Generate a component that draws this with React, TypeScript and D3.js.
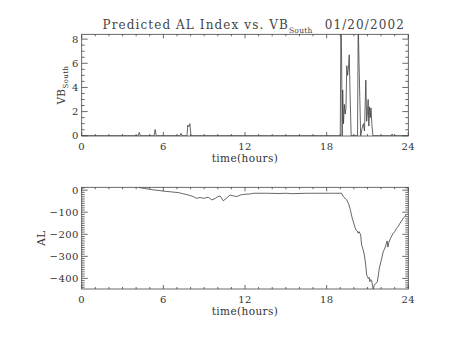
import React from "react";
import * as d3 from "d3";

const vbTimes = [0, 4.15, 4.23, 4.31, 5.32, 5.4, 5.48, 7.22, 7.3, 7.38, 7.74, 7.79, 7.87, 7.95, 8.03, 19.0, 19.05, 19.1, 19.14, 19.18, 19.24, 19.3, 19.36, 19.42, 19.48, 19.54, 19.6, 19.66, 19.72, 19.8, 20.27, 20.32, 20.38, 20.44, 20.5, 20.6, 20.7, 20.78, 20.88, 20.94, 21.0, 21.05, 21.1, 21.15, 21.2, 21.26, 21.32, 21.4, 22.76, 22.81, 22.86, 24];
const vbValues = [0, 0, 0.28, 0, 0, 0.52, 0, 0, 0.2, 0, 0, 0.88, 0.75, 1.0, 0, 0, 9.5, 6.5, 0, 3.8, 1.0, 2.6, 1.8, 2.3, 5.8, 5.0, 5.6, 6.7, 3.5, 0, 0, 9.5, 6.0, 3.0, 0, 0.6, 1.0, 0.4, 4.6, 1.2, 2.0, 3.0, 0.8, 2.4, 1.5, 2.3, 1.0, 0, 0, 0.15, 0, 0];

const alTimes = [4.2, 4.6, 5.2, 6.0, 6.6, 7.1, 7.5, 7.84, 8.2, 8.45, 8.7, 8.94, 9.1, 9.3, 9.55, 9.8, 10.0, 10.16, 10.4, 10.65, 10.9, 11.15, 11.4, 11.65, 11.9, 12.4, 12.6, 13.5, 14.5, 15.0, 15.5, 16.5, 17.5, 18.5, 19.1, 19.22, 19.35, 19.47, 19.6, 19.71, 19.8, 19.88, 20.03, 20.15, 20.25, 20.32, 20.38, 20.5, 20.57, 20.68, 20.77, 20.87, 20.94, 21.0, 21.06, 21.12, 21.18, 21.24, 21.31, 21.38, 21.43, 21.5, 21.58, 21.72, 21.8, 21.87, 21.99, 22.16, 22.28, 22.36, 22.44, 22.5, 22.58, 22.7, 22.8, 22.9, 23.0, 23.14, 23.25, 23.39, 23.5, 23.63, 23.75, 23.83];
const alValues = [12, 8, 2, -4, -8, -11, -17, -22, -29, -37, -33, -37, -35, -32, -44, -38, -30, -26, -48, -36, -22, -26, -29, -22, -19, -17, -14, -14, -15, -14, -16, -14, -14, -14, -14, -29, -36, -44, -60, -82, -105, -127, -158, -180, -185, -195, -188, -203, -248, -270, -294, -339, -384, -392, -400, -395, -415, -405, -410, -437, -448, -430, -425, -415, -385, -354, -324, -279, -262, -248, -230, -258, -235, -218, -205, -195, -188, -173, -165, -150, -140, -127, -120, -112];

const xTicks = [0, 6, 12, 18, 24];
const vbTicks = [0, 2, 4, 6, 8];
const alTicks = [0, -100, -200, -300, -400];

const W = 454;
const H = 341;
const LEFT = 81.7;
const RIGHT = 408.3;
const FONT = "'DejaVu Serif', serif";

type PanelProps = {
  top: number;
  bottom: number;
  yDomain: [number, number];
  yTicks: number[];
  yMinorStep: number;
  times: number[];
  values: number[];
  clipId: string;
  ylabel: React.ReactNode;
  ylabelX: number;
};

function Panel({ top, bottom, yDomain, yTicks, yMinorStep, times, values, clipId, ylabel, ylabelX }: PanelProps) {
  const x = d3.scaleLinear().domain([0, 24]).range([LEFT, RIGHT]);
  const y = d3.scaleLinear().domain(yDomain).range([bottom, top]);
  const line = d3
    .line<number>()
    .x((_, i) => x(times[i]))
    .y((d) => y(d));
  const xMinor = d3.range(0, 24.001, 1).filter((v) => !xTicks.includes(v));
  const yMinorAll = d3.range(Math.ceil(yDomain[0] / yMinorStep) * yMinorStep, yDomain[1] + 1e-6, yMinorStep);
  const yMinor = yMinorAll.filter((v) => !yTicks.some((t) => Math.abs(t - v) < 1e-6));
  const xMaj = 4, xMin = 2, yMaj = 6, yMin = 3;
  const axisColor = "#444";
  return (
    <g>
      <defs>
        <clipPath id={clipId}>
          <rect x={LEFT} y={top} width={RIGHT - LEFT} height={bottom - top} />
        </clipPath>
      </defs>
      <path d={line(values) || ""} fill="none" stroke="#333" strokeWidth={0.75} clipPath={`url(#${clipId})`} />
      <rect x={LEFT} y={top} width={RIGHT - LEFT} height={bottom - top} fill="none" stroke={axisColor} strokeWidth={0.8} />
      <g stroke={axisColor} strokeWidth={0.8}>
        {xTicks.map((t) => (
          <g key={"xM" + t}>
            <line x1={x(t)} x2={x(t)} y1={bottom} y2={bottom - xMaj} />
            <line x1={x(t)} x2={x(t)} y1={top} y2={top + xMaj} />
          </g>
        ))}
        {xMinor.map((t) => (
          <g key={"xm" + t}>
            <line x1={x(t)} x2={x(t)} y1={bottom} y2={bottom - xMin} />
            <line x1={x(t)} x2={x(t)} y1={top} y2={top + xMin} />
          </g>
        ))}
        {yTicks.map((t) => (
          <g key={"yM" + t}>
            <line x1={LEFT} x2={LEFT + yMaj} y1={y(t)} y2={y(t)} />
            <line x1={RIGHT} x2={RIGHT - yMaj} y1={y(t)} y2={y(t)} />
          </g>
        ))}
        {yMinor.map((t) => (
          <g key={"ym" + t}>
            <line x1={LEFT} x2={LEFT + yMin} y1={y(t)} y2={y(t)} />
            <line x1={RIGHT} x2={RIGHT - yMin} y1={y(t)} y2={y(t)} />
          </g>
        ))}
      </g>
      <g fontFamily={FONT} fontSize={10} fill="#333" letterSpacing={0.4}>
        {xTicks.map((t) => (
          <text key={"xl" + t} x={x(t)} y={bottom + 14} textAnchor="middle">
            {t}
          </text>
        ))}
        {yTicks.map((t) => (
          <text key={"yl" + t} x={LEFT - 3} y={y(t) + 3.5} textAnchor="end">
            {t === 0 ? "0" : t < 0 ? "\u2212" + Math.abs(t) : String(t)}
          </text>
        ))}
        <text x={(LEFT + RIGHT) / 2} y={bottom + 26} textAnchor="middle" fontSize={10.5}>
          time(hours)
        </text>
        <text transform={`translate(${ylabelX},${(top + bottom) / 2}) rotate(-90)`} textAnchor="middle" fontSize={10.5}>
          {ylabel}
        </text>
      </g>
    </g>
  );
}

export default function App() {
  return (
    <svg width={W} height={H} style={{ display: "block", position: "absolute", left: 0, top: 0, background: "#fff" }}>
      <rect width={W} height={H} fill="#fff" />
      <text x={102.5} y={29} fontFamily={FONT} fontSize={12} letterSpacing={1.1} fill="#444">
        Predicted AL Index vs. VB
        <tspan fontSize={7.5} dy={4} letterSpacing={0.3}>South</tspan>
        <tspan dy={-4} dx={12}>01/20/2002</tspan>
      </text>
      <Panel
        top={34.3}
        bottom={136}
        yDomain={[-0.02, 8.4]}
        yTicks={vbTicks}
        yMinorStep={0.5}
        times={vbTimes}
        values={vbValues}
        clipId="clipTop"
        ylabelX={65}
        ylabel={
          <>
            VB<tspan fontSize={7} dy={3}>South</tspan>
          </>
        }
      />
      <Panel
        top={187.3}
        bottom={289}
        yDomain={[-448, 13]}
        yTicks={alTicks}
        yMinorStep={10}
        times={alTimes}
        values={alValues}
        clipId="clipBottom"
        ylabelX={45}
        ylabel={"AL"}
      />
    </svg>
  );
}
